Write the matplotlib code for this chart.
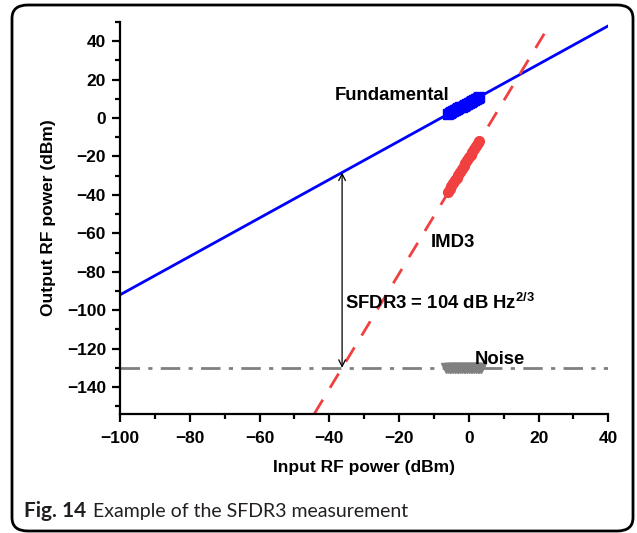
import matplotlib
matplotlib.use("Agg")
import matplotlib.pyplot as plt
from matplotlib.patches import FancyBboxPatch
import numpy as np

plt.rcParams['font.family'] = ['Liberation Sans', 'DejaVu Sans']
plt.rcParams['mathtext.fontset'] = 'custom'
plt.rcParams['mathtext.rm'] = 'Liberation Sans:bold'
plt.rcParams['mathtext.default'] = 'rm'

# Measured fundamental output
fund_in = [-6.0, -5.5, -5.0, -4.5, -4.0, -3.5, -3.0, -2.5, -2.0, -1.5, -1.0, -0.5,
           0.0, 0.5, 1.0, 1.5, 2.0, 2.5, 3.0]
fund_out = [2.0, 2.6, 3.0, 3.5, 4.0, 4.5, 5.0, 5.5, 6.0, 6.5, 7.0, 7.5,
            8.0, 8.5, 9.0, 9.4, 9.9, 10.4, 10.9]

# Measured third-order intermodulation output
imd_in = [-6.0, -5.5, -5.0, -4.5, -4.0, -3.5, -3.0, -2.5, -2.0, -1.5, -1.0, -0.5,
          0.0, 0.5, 1.0, 1.5, 2.0, 2.5, 3.0]
imd_out = [-38.5, -37.0, -35.6, -34.0, -32.5, -31.0, -29.6, -28.0, -26.5, -25.0, -23.6,
           -22.0, -20.5, -19.0, -17.6, -16.0, -14.6, -13.2, -12.0]

# Measured noise floor
noise_in = [-6.5, -6.0, -5.5, -5.0, -4.5, -4.0, -3.5, -3.0, -2.5, -2.0, -1.5, -1.0, -0.5,
            0.0, 0.5, 1.0, 1.5, 2.0, 2.5, 3.0, 3.5]
noise_out = [-130.0] * 21

# Fitted lines: fundamental (slope 1) and IMD3 (slope 3)
fund_fit_x = [-100, 40]
fund_fit_y = [-92, 48]
imd_fit_x = [-44.33, 23.67]
imd_fit_y = [-154, 50]
noise_level = -130
x_lim = [-100, 40]
y_lim = [-154, 50]

sfdr_x = -36.33
sfdr_lo = -130
sfdr_hi = -28.33

TICK_FS = 12.5
LABEL_FS = 12.5
NOTE_FS = 13.3

fig = plt.figure(figsize=(6.37, 5.33), dpi=100)
ax = fig.add_axes([0.1884, 0.2233, 0.7666, 0.7355])

ax.plot(fund_fit_x, fund_fit_y, color='#0000ff', lw=2)
ax.plot(imd_fit_x, imd_fit_y, color='#f04040', lw=2, dashes=(6, 5))
ax.plot(x_lim, [noise_level, noise_level], color='#808080', lw=2,
        dashes=(7, 3, 1.5, 3))

ax.plot(fund_in, fund_out, 's', color='#0000ff', ms=7, mec='#0000ff')
ax.plot(imd_in, imd_out, 'o', color='#f04040', ms=7, mec='#f04040')
ax.plot(noise_in, noise_out, 'v', color='#808080', ms=7, mec='#808080')

ax.annotate('', xy=(sfdr_x, sfdr_hi), xytext=(sfdr_x, sfdr_lo),
            arrowprops=dict(arrowstyle='<->', color='black', lw=0.9,
                            shrinkA=0, shrinkB=0, mutation_scale=12))

ax.text(-5.5, 11.6, 'Fundamental', fontsize=NOTE_FS, fontweight='bold', ha='right', va='center')
ax.text(-11, -64.6, 'IMD3', fontsize=NOTE_FS, fontweight='bold', ha='left', va='center')
ax.text(-35.5, -96.2, r'SFDR3 = 104 dB Hz$^{2/3}$', fontsize=NOTE_FS, fontweight='bold',
        ha='left', va='center')
ax.text(9, -125.6, 'Noise', fontsize=NOTE_FS, fontweight='bold', ha='center', va='center')

ax.set_xlim(x_lim)
ax.set_ylim(y_lim)
ax.set_xticks(np.arange(-100, 41, 20))
ax.set_xticks(np.arange(-90, 41, 20), minor=True)
ax.set_yticks(np.arange(-140, 41, 20))
ax.set_yticks(np.arange(-150, 51, 20), minor=True)
ax.set_xticklabels(['\u2212100', '\u221280', '\u221260', '\u221240', '\u221220', '0', '20', '40'])
ax.set_yticklabels(['\u2212140', '\u2212120', '\u2212100', '\u221280', '\u221260', '\u221240',
                    '\u221220', '0', '20', '40'])
for lbl in ax.get_xticklabels() + ax.get_yticklabels():
    lbl.set_fontweight('bold')
    lbl.set_fontsize(TICK_FS)
ax.tick_params(which='major', direction='out', length=6, width=1.6)
ax.tick_params(axis='x', which='major', pad=6)
ax.tick_params(axis='y', which='major', pad=4)
ax.tick_params(which='minor', direction='out', length=3.5, width=1.6)
ax.spines['top'].set_visible(False)
ax.spines['right'].set_visible(False)
ax.spines['left'].set_linewidth(1.6)
ax.spines['bottom'].set_linewidth(1.6)
ax.set_xlabel('Input RF power (dBm)', fontsize=LABEL_FS, fontweight='bold', labelpad=10)
ax.set_ylabel('Output RF power (dBm)', fontsize=LABEL_FS, fontweight='bold', labelpad=8)

frame = FancyBboxPatch((12 / 637, 2 / 533), 621 / 637, 526 / 533,
                       boxstyle='round,pad=0,rounding_size=0.025',
                       transform=fig.transFigure, fill=False, ec='black', lw=2,
                       clip_on=False)
fig.patches.append(frame)

fig.text(24 / 637, 1 - 511 / 533, 'Fig. 14', fontsize=15, fontweight='bold',
         family='Lato', ha='left', va='center', color='#231f20')
fig.text(93 / 637, 1 - 511 / 533, 'Example of the SFDR3 measurement', fontsize=14,
         family='Lato', ha='left', va='center', color='#231f20')

fig.savefig('out.png', dpi=100)
